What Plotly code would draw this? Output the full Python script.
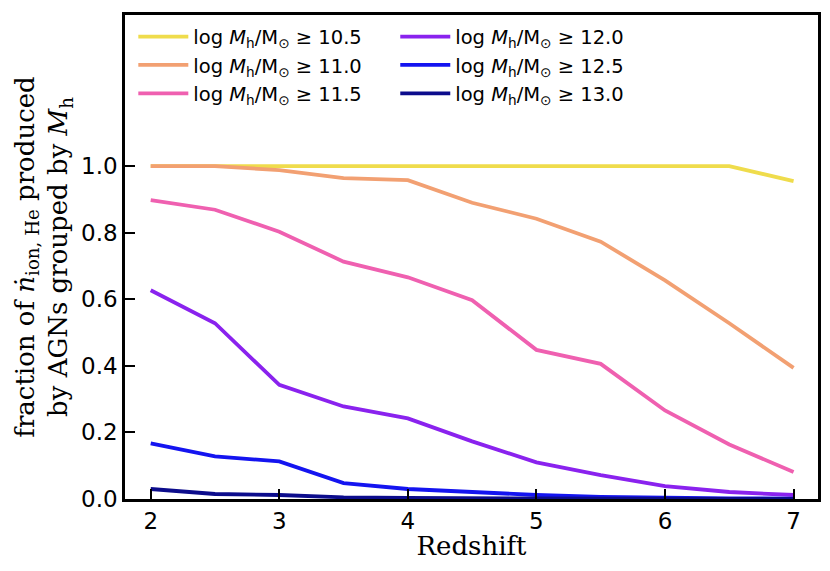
import plotly.graph_objects as go

redshift = [2.0, 2.5, 3.0, 3.5, 4.0, 4.5, 5.0, 5.5, 6.0, 6.5, 7.0]

frac_105 = [1.0, 1.0, 1.0, 1.0, 1.0, 1.0, 1.0, 1.0, 1.0, 1.0, 0.955]
frac_110 = [1.0, 1.0, 0.988, 0.964, 0.958, 0.89, 0.842, 0.773, 0.657, 0.528, 0.394]
frac_115 = [0.898, 0.869, 0.803, 0.713, 0.666, 0.597, 0.448, 0.406, 0.266, 0.164, 0.081]
frac_120 = [0.627, 0.528, 0.343, 0.278, 0.242, 0.173, 0.11, 0.072, 0.039, 0.021, 0.012]
frac_125 = [0.167, 0.128, 0.113, 0.048, 0.03, 0.02, 0.012, 0.006, 0.003, 0.002, 0.001]
frac_130 = [0.03, 0.015, 0.012, 0.005, 0.003, 0.002, 0.001, 0.0, 0.0, 0.0, 0.0]

mass_cuts = ["10.5", "11.0", "11.5", "12.0", "12.5", "13.0"]
series = [frac_105, frac_110, frac_115, frac_120, frac_125, frac_130]
colors = ["#efdc4c", "#f2a072", "#ef60b0", "#8a22ee", "#1414f0", "#0c0c8c"]

fig = go.Figure()
for i, (cut, ys, col) in enumerate(zip(mass_cuts, series, colors)):
    fig.add_trace(go.Scatter(
        x=redshift, y=ys, mode="lines",
        line=dict(color=col, width=3.8),
        name=f"log <i>M</i><sub>h</sub>/M<sub>\u2299</sub> \u2265 {cut}",
        legend="legend" if i < 3 else "legend2",
    ))

legend_common = dict(
    bgcolor="rgba(0,0,0,0)",
    font=dict(family="DejaVu Sans", size=19.5, color="black"),
    xanchor="left", yanchor="top", tracegroupgap=0,
    itemwidth=50,
)

fig.update_layout(
    width=830, height=571,
    margin=dict(l=117, r=20, t=4, b=80),
    paper_bgcolor="white", plot_bgcolor="white",
    legend=dict(x=0.012, y=0.995, **legend_common),
    legend2=dict(x=0.39, y=0.995, **legend_common),
    xaxis=dict(
        range=[1.8, 7.19],
        tickvals=[2, 3, 4, 5, 6, 7],
        ticks="inside", ticklen=10, tickwidth=2, tickcolor="black",
        showline=True, linewidth=2.5, linecolor="black", mirror=True,
        showgrid=False, zeroline=False,
        tickfont=dict(family="DejaVu Sans", size=23, color="black"),
        title=dict(text="Redshift", standoff=4,
                   font=dict(family="DejaVu Serif", size=26, color="black")),
    ),
    yaxis=dict(
        range=[0, 1.454],
        tickvals=[0, 0.2, 0.4, 0.6, 0.8, 1.0],
        ticktext=["0.0", "0.2", "0.4", "0.6", "0.8", "1.0"],
        ticks="inside", ticklen=10, tickwidth=2, tickcolor="black",
        showline=True, linewidth=2.5, linecolor="black", mirror=True,
        showgrid=False, zeroline=False,
        tickfont=dict(family="DejaVu Sans", size=23, color="black"),
        title=dict(
            text="fraction of <i>\u1e45</i><sub>ion, He</sub> produced<br>by AGNs grouped by <i>M</i><sub>h</sub>",
            standoff=6,
            font=dict(family="DejaVu Serif", size=26, color="black"),
        ),
    ),
)

fig.write_html("out.html")
